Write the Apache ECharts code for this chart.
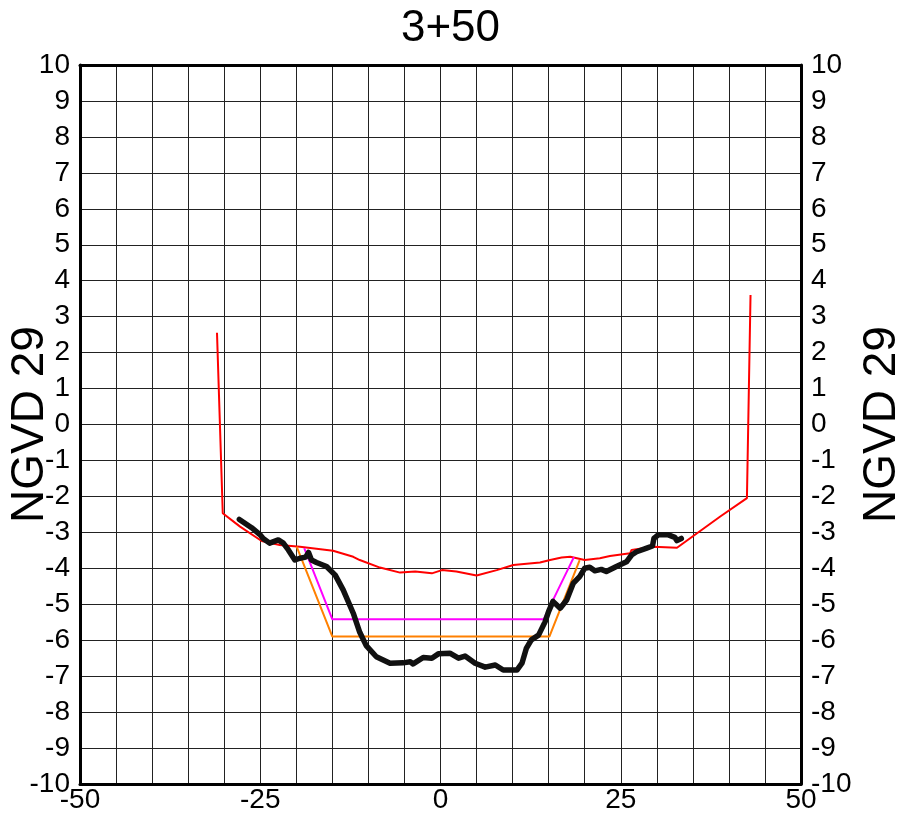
<!DOCTYPE html>
<html>
<head>
<meta charset="utf-8">
<script src="https://cdn.jsdelivr.net/npm/echarts@6/dist/echarts.min.js"></script>
<style>html,body{margin:0;padding:0;background:#fff;}#c{width:901px;height:823px;}</style>
</head>
<body>
<div id="c"></div>
<script>
var titleText = '3+50';
var axisName = 'NGVD 29';
var xTickLabels = [-50, -25, 0, 25, 50];

var existingGround = [
  [-27.9,-2.64],[-26.2,-2.87],[-25.0,-3.07],[-24.6,-3.17],[-23.7,-3.30],[-22.5,-3.21],[-21.8,-3.30],
  [-21.1,-3.49],[-20.2,-3.77],[-19.5,-3.72],[-18.7,-3.69],[-18.3,-3.56],[-17.9,-3.77],[-17.2,-3.84],
  [-15.8,-3.95],[-14.6,-4.19],[-13.5,-4.60],[-12.1,-5.25],[-11.2,-5.78],[-10.3,-6.15],[-8.9,-6.46],
  [-7.0,-6.64],[-5.2,-6.63],[-4.2,-6.60],[-3.8,-6.66],[-2.4,-6.48],[-1.2,-6.50],[-0.3,-6.38],
  [1.3,-6.36],[2.5,-6.50],[3.4,-6.44],[4.8,-6.64],[6.2,-6.75],[7.6,-6.69],[8.7,-6.83],[10.6,-6.83],
  [11.3,-6.64],[11.9,-6.23],[12.6,-5.99],[13.6,-5.86],[14.5,-5.49],[15.0,-5.20],[15.6,-4.92],
  [16.6,-5.11],[17.5,-4.88],[18.4,-4.42],[19.3,-4.23],[20.0,-4.00],[20.7,-3.97],[21.4,-4.07],
  [22.3,-4.03],[23.0,-4.09],[24.4,-3.95],[25.8,-3.82],[26.5,-3.63],[27.2,-3.54],[28.6,-3.44],
  [29.4,-3.38],[29.6,-3.17],[30.2,-3.07],[31.6,-3.07],[32.5,-3.14],[32.8,-3.23],[33.4,-3.17]
];

var priorSurvey = [
  [-31.0,2.55],[-30.2,-2.47],[-27.8,-2.84],[-24.8,-3.24],[-22.3,-3.35],[-19.5,-3.40],[-14.9,-3.51],
  [-12.1,-3.68],[-11.2,-3.77],[-8.4,-3.98],[-5.6,-4.12],[-3.5,-4.09],[-1.2,-4.14],[0.2,-4.05],
  [2.2,-4.09],[5.0,-4.20],[7.8,-4.05],[10.1,-3.91],[13.8,-3.84],[15.2,-3.77],[16.8,-3.70],
  [18.0,-3.68],[20.0,-3.77],[22.1,-3.72],[23.5,-3.66],[26.3,-3.58],[26.5,-3.49],[29.5,-3.40],
  [32.8,-3.43],[38.8,-2.56],[42.5,-2.05],[43.0,3.60]
];

var designTemplate = [[-18.9,-3.44],[-15.0,-5.42],[14.3,-5.42],[18.5,-3.69]];
var overdredgeTemplate = [[-19.95,-3.40],[-15.0,-5.90],[15.1,-5.90],[19.3,-3.77]];

var chart = echarts.init(document.getElementById('c'));
var font = 'Liberation Sans, Arial, sans-serif';
function yAxisDef(pos, gap) {
  return {
    type: 'value', position: pos, min: -10, max: 10, interval: 1,
    name: axisName, nameLocation: 'middle', nameGap: gap, nameRotate: 90, nameMoveOverlap: false,
    nameTextStyle: { fontSize: 46, color: '#000', fontFamily: font },
    axisLine: { show: true, onZero: false, lineStyle: { color: '#000', width: 3 } },
    axisTick: { show: false },
    axisLabel: { fontSize: 28, color: '#000', fontFamily: font, margin: 10 },
    splitLine: { show: pos === 'left', lineStyle: { color: '#222', width: 1 } }
  };
}
chart.setOption({
  animation: false,
  backgroundColor: '#fff',
  title: { text: titleText, left: 'center', top: 2, textStyle: { fontSize: 44, fontWeight: 'normal', color: '#000', fontFamily: font } },
  grid: { left: 80, right: 100, top: 65, bottom: 39, containLabel: false, outerBoundsMode: 'none' },
  xAxis: [{
    type: 'value', min: -50, max: 50, interval: 5, position: 'bottom',
    axisLine: { show: true, onZero: false, lineStyle: { color: '#000', width: 3 } },
    axisTick: { show: false },
    axisLabel: {
      fontSize: 28, color: '#000', fontFamily: font, margin: 2,
      formatter: function (v) { return xTickLabels.indexOf(v) >= 0 ? String(v) : ''; }
    },
    splitLine: { show: true, lineStyle: { color: '#222', width: 1 } }
  }, {
    type: 'value', min: -50, max: 50, interval: 5, position: 'top',
    axisLine: { show: true, onZero: false, lineStyle: { color: '#000', width: 3 } },
    axisTick: { show: false }, axisLabel: { show: false }, splitLine: { show: false }
  }],
  yAxis: [yAxisDef('left', 27), yAxisDef('right', 58)],
  series: [
    { type: 'line', data: priorSurvey, showSymbol: false, lineStyle: { color: '#ff0000', width: 2 }, z: 3 },
    { type: 'line', data: overdredgeTemplate, showSymbol: false, lineStyle: { color: '#ff8000', width: 2 }, z: 4 },
    { type: 'line', data: designTemplate, showSymbol: false, lineStyle: { color: '#ff00ff', width: 2 }, z: 5 },
    { type: 'line', data: existingGround, showSymbol: false, lineStyle: { color: '#111', width: 5.5, join: 'round', cap: 'round' }, z: 6 }
  ]
});
</script>
</body>
</html>
